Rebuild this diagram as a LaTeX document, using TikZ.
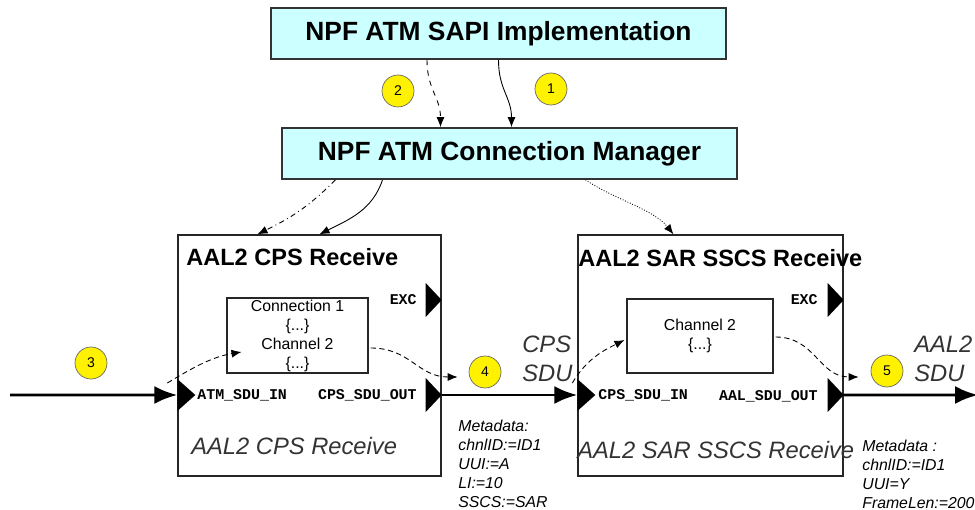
\documentclass[tikz,border=0pt]{standalone}
\usepackage{fontspec}
\setmainfont{Liberation Sans}
\setmonofont{Liberation Mono}
\usetikzlibrary{arrows.meta, calc}
\definecolor{boxcyan}{HTML}{CCFFFF}

\begin{document}
\begin{tikzpicture}[x = 0.02cm, y = -0.02cm, > = {Latex[length = 2mm, width = 1.6mm]},
	topbox/.style = {draw = black!80, fill = boxcyan, line width = 1pt, minimum width = 9.1cm, minimum height = 1.02cm, font = \fontsize{15}{18}\selectfont\bfseries},
	block/.style = {draw = black!85, line width = 0.8pt, minimum height = 4.82cm},
	chanbox/.style = {draw = black!85, line width = 0.6pt, inner sep = 0pt, align = center, font = \fontsize{9}{10.8}\selectfont},
	badge/.style = {circle, draw = black!60, fill = yellow, minimum size = 0.64cm, inner sep = 0pt, font = \fontsize{8}{8}\selectfont},
	portlabel/.style = {inner sep = 0pt, font = \ttfamily\bfseries\fontsize{8.5}{9}\selectfont},
	blocktitle/.style = {inner sep = 0pt, font = \fontsize{13.4}{16}\selectfont\bfseries},
	subtitle/.style = {inner sep = 0pt, text = black!80, font = \fontsize{13.5}{16}\selectfont\itshape},
	meta/.style = {inner sep = 0pt, align = left, font = \fontsize{9}{10.8}\selectfont\itshape},
	flow/.style = {line width = 1.7pt, -{Latex[length = 4.6mm, width = 3.6mm]}},
	ctl/.style = {line width = 0.5pt, ->},
	portin/.pic = {\fill (0, -16) -- (18, 0) -- (0, 16) -- cycle;},
	portout/.pic = {\fill (-16, -17) -- (0, 0) -- (-16, 17) -- cycle;}]

	% Page frame (pixel units, y downwards)
	
	\useasboundingbox (0, 0) rectangle (975, 510);
	
	% Management boxes
	
	\node [topbox] (sapi) at (498.5, 33.5) {NPF ATM SAPI Implementation};
	\node [topbox] (mgr) at (509.5, 153.5) {NPF ATM Connection Manager};
	
	% Receive blocks + channel boxes
	
	\node [block, minimum width = 5.26cm] (cps) at (309.5, 355.5) {};
	\node [block, minimum width = 5.3cm] (sar) at (710.5, 355.5) {};
	
	\node [chanbox, minimum width = 2.82cm, minimum height = 1.5cm] (cpschan) at (297.5, 335.5) {Connection 1\\\{...\}\\Channel 2\\\{...\}};
	\node [chanbox, minimum width = 2.92cm, minimum height = 1.48cm] (sarchan) at (700, 336) {Channel 2\\\{...\}};
	
	\node [blocktitle, anchor = base west] (cpstitle) at (186, 266) {AAL2 CPS Receive};
	\node [blocktitle, anchor = base west] (sartitle) at (578, 267) {AAL2 SAR SSCS Receive};
	\node [subtitle, anchor = base west] (cpsname) at (191, 454) {AAL2 CPS Receive};
	\node [subtitle, anchor = base west] (sarname) at (577, 459) {AAL2 SAR SSCS Receive};
	
	% Ports
	
	\coordinate (cpsin) at ($(cps.west) + (0, 39.5)$);
	\coordinate (cpsout) at ($(cps.east) + (0, 39.5)$);
	\coordinate (cpsexc) at ($(cps.east) + (0, -55.5)$);
	\coordinate (sarin) at ($(sar.west) + (0, 39.5)$);
	\coordinate (sarout) at ($(sar.east) + (0, 39.5)$);
	\coordinate (sarexc) at ($(sar.east) + (0, -55.5)$);
	
	\pic at (cpsin) {portin};
	\pic at (cpsout) {portout};
	\pic at (cpsexc) {portout};
	\pic at (sarin) {portin};
	\pic at (sarout) {portout};
	\pic at (sarexc) {portout};
	
	\node [portlabel, anchor = west] (cpsinlbl) at (197, 395) {ATM\_SDU\_IN};
	\node [portlabel, anchor = east] (cpsoutlbl) at (417, 395) {CPS\_SDU\_OUT};
	\node [portlabel, anchor = east] (cpsexclbl) at (417, 300) {EXC};
	\node [portlabel, anchor = west] (sarinlbl) at (598, 395) {CPS\_SDU\_IN};
	\node [portlabel, anchor = east] (saroutlbl) at (818, 396) {AAL\_SDU\_OUT};
	\node [portlabel, anchor = east] (sarexclbl) at (818, 300) {EXC};
	
	% Data path
	
	\coordinate (src) at (10, 395);
	\coordinate (sink) at (978, 395);
	
	\draw [flow] (src) -- (cpsin);
	\draw [flow] (cpsout) -- (sarin);
	\draw [flow] (sarout) -- (sink);
	
	\node [subtitle, align = left, anchor = north west] (cpssdu) at (522, 336) {CPS\\SDU};
	\node [subtitle, align = left, anchor = north west] (aalsdu) at (914, 336) {AAL2\\SDU};
	
	\node [meta, anchor = north west] (cpsmeta) at (458, 420) {Metadata:\\chnlID:=ID1\\UUI:=A\\LI:=10\\SSCS:=SAR};
	\node [meta, anchor = north west] (sarmeta) at (862, 440) {Metadata :\\chnlID:=ID1\\UUI=Y\\FrameLen:=200};
	
	% Control arrows
	
	\draw [ctl, dashed] ($(sapi.south) + (-71.5, 0)$) .. controls +(0, 30) and +(0, -30) .. ($(mgr.north) + (-69, 0)$);
	\draw [ctl] (sapi.south) .. controls +(0, 30) and +(0, -30) .. ($(mgr.north) + (2, 0)$);
	\draw [ctl, dash dot] ($(mgr.south) + (-174, 0)$) .. controls +(-30, 30) and +(30, -15) .. ($(cps.north) + (-52, 0)$);
	\draw [ctl] ($(mgr.south) + (-127, 0)$) .. controls +(-10, 30) and +(30, -15) .. ($(cps.north) + (10, 0)$);
	\draw [ctl, densely dotted] ($(mgr.south) + (76, 0)$) .. controls +(30, 20) and +(-20, -25) .. ($(sar.north) + (-37, 0)$);
	
	% Internal paths
	
	\draw [ctl, densely dashed] ($(cpsin) + (-10, -12)$) .. controls +(25, -15) and +(-30, 5) .. ($(cpschan.west) + (15, 16.5)$);
	\draw [ctl, densely dashed] ($(cpschan.east) + (2, 12.5)$) .. controls +(40, 0) and +(-40, 0) .. ($(cpsout) + (16, -18)$);
	\draw [ctl, densely dashed] ($(sarin) + (-5, -12)$) .. controls +(15, -25) and +(-20, 10) .. ($(sarchan.west) + (-2, 4)$);
	\draw [ctl, densely dashed] ($(sarchan.east) + (2, 1)$) .. controls +(40, 0) and +(-40, 0) .. ($(sarout) + (15, -18)$);
	
	% Step badges
	
	\node [badge] (b1) at (551, 89) {1};
	\node [badge] (b2) at (398, 91) {2};
	\node [badge] (b3) at (91, 363) {3};
	\node [badge] (b4) at (485, 372) {4};
	\node [badge] (b5) at (887, 371) {5};
	
\end{tikzpicture}
\end{document}
